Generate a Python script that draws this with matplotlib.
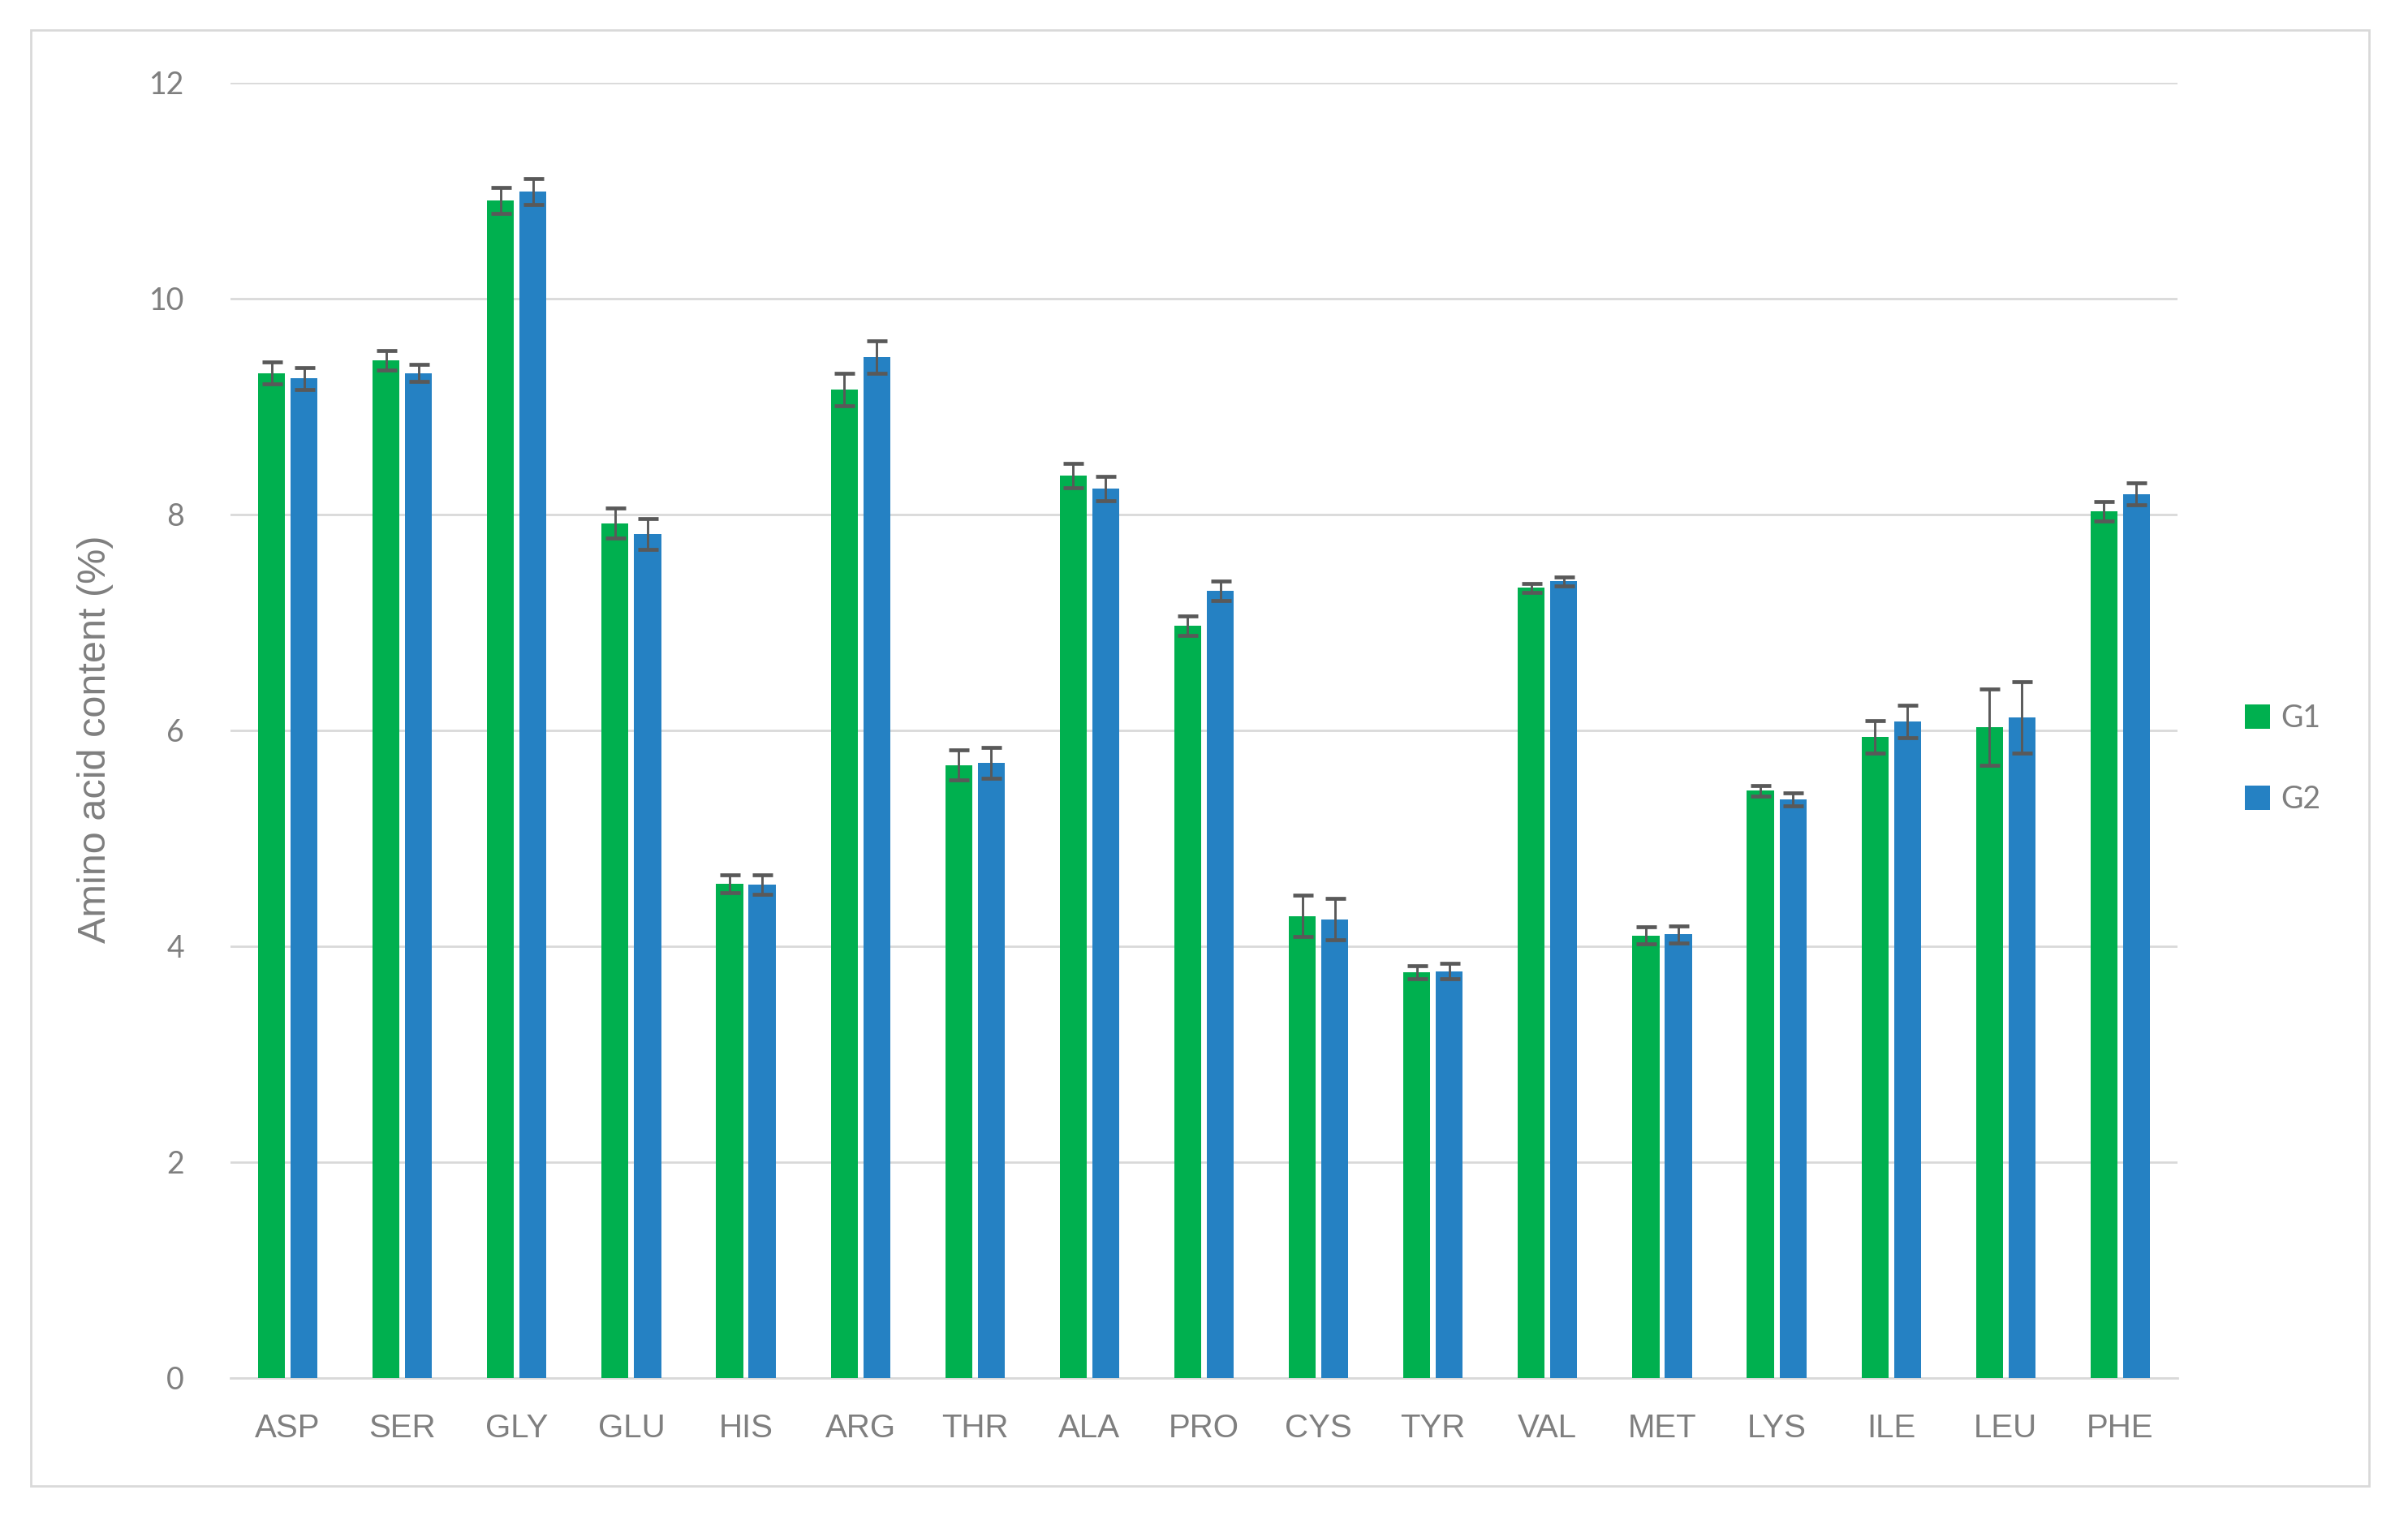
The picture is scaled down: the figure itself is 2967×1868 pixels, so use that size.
import matplotlib
matplotlib.use("Agg")
import matplotlib.pyplot as plt
from matplotlib.patches import Rectangle
import numpy as np

# amino acid composition, mean +/- error for two groups
amino_acids = ["ASP", "SER", "GLY", "GLU", "HIS", "ARG", "THR", "ALA", "PRO",
               "CYS", "TYR", "VAL", "MET", "LYS", "ILE", "LEU", "PHE"]
g1_mean = [9.31, 9.43, 10.91, 7.92, 4.58, 9.16, 5.68, 8.36, 6.97,
           4.28, 3.76, 7.32, 4.10, 5.44, 5.94, 6.03, 8.03]
g1_err = [0.10, 0.09, 0.12, 0.14, 0.08, 0.15, 0.14, 0.11, 0.09,
          0.19, 0.06, 0.04, 0.08, 0.05, 0.15, 0.35, 0.09]
g2_mean = [9.26, 9.31, 10.99, 7.82, 4.57, 9.46, 5.70, 8.24, 7.29,
           4.25, 3.77, 7.38, 4.11, 5.36, 6.08, 6.12, 8.19]
g2_err = [0.10, 0.08, 0.12, 0.14, 0.09, 0.15, 0.14, 0.11, 0.09,
          0.19, 0.07, 0.04, 0.08, 0.06, 0.15, 0.33, 0.10]
series = ["G1", "G2"]
y_ticks = [0, 2, 4, 6, 8, 10, 12]

GREEN = "#00B04F"
BLUE = "#2581C3"
GRID = "#D9D9D9"
TXT = "#7F7F7F"

fig = plt.figure(figsize=(29.67, 18.68), dpi=100)
ax = fig.add_axes([284 / 2967, 1 - 1698 / 1868, 2399 / 2967, 1596 / 1868])

x = np.arange(len(amino_acids))
w = 0.235
off = 0.142
err_kw = dict(ecolor="#595959", elinewidth=2.1, capsize=9, capthick=3.4)
b1 = ax.bar(x - off, g1_mean, w, yerr=g1_err, color=GREEN, error_kw=err_kw,
            label=series[0], zorder=3)
b2 = ax.bar(x + off, g2_mean, w, yerr=g2_err, color=BLUE, error_kw=err_kw,
            label=series[1], zorder=3)

ax.set_xlim(-0.5, len(amino_acids) - 0.5)
ax.set_ylim(0, 12)
ax.set_yticks(y_ticks)
ax.yaxis.grid(True, color=GRID, lw=2.0, zorder=0)
ax.set_axisbelow(True)
for s in ("top", "right", "left"):
    ax.spines[s].set_visible(False)
ax.spines["bottom"].set_color(GRID)
ax.spines["bottom"].set_linewidth(2.0)

ax.set_xticks(x)
ax.set_xticklabels(amino_acids, fontfamily="Liberation Sans", fontsize=29, color=TXT)
ax.set_yticklabels([str(t) for t in y_ticks], fontfamily="Lato", fontsize=27, color=TXT)
ax.tick_params(axis="y", length=0, pad=41)
ax.tick_params(axis="x", length=0, pad=31)

ax.set_ylabel("Amino acid content (%)", fontfamily="Liberation Sans", fontsize=35, color=TXT)
ax.yaxis.set_label_coords(-0.0696, 0.493)
ax.yaxis.label.set_va("center")

fig.legend(handles=[b1, b2], labels=series, loc="center left",
           bbox_to_anchor=(2766 / 2967, 1 - 935 / 1868), bbox_transform=fig.transFigure,
           frameon=False, borderpad=0, borderaxespad=0,
           handlelength=0.83, handleheight=0.83, handletextpad=0.35, labelspacing=1.7,
           prop={"family": "Lato", "size": 27}, labelcolor=TXT)

# outer chart border
fig.patches.append(Rectangle((38 / 2967, 1 - 1831 / 1868), (2919 - 38) / 2967, (1831 - 37) / 1868,
                             transform=fig.transFigure, fill=False, ec=GRID, lw=2.0))

fig.savefig("out.png", dpi=100, facecolor="white")
